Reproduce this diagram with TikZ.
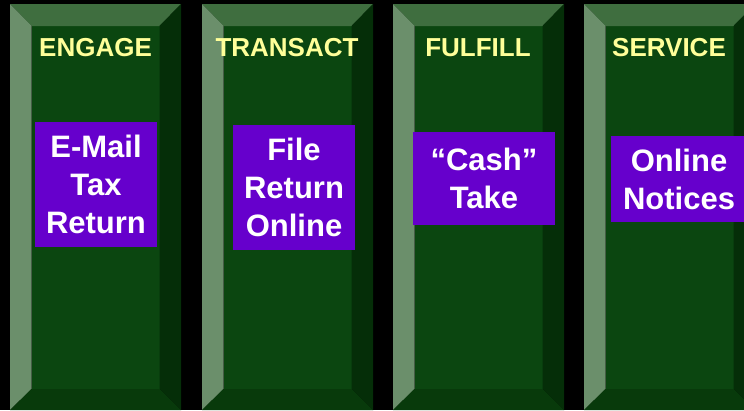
\documentclass[tikz,border=0pt]{standalone}
\usepackage{fontspec}
\setmainfont{Liberation Sans}
\definecolor{bevtop}{RGB}{63,110,63}
\definecolor{bevleft}{RGB}{107,143,107}
\definecolor{bevright}{RGB}{5,46,8}
\definecolor{bevbot}{RGB}{8,58,11}
\definecolor{face}{RGB}{11,70,16}
\definecolor{boxpurple}{RGB}{102,0,204}
\definecolor{hdryellow}{RGB}{255,255,153}
\begin{document}
\begin{tikzpicture}[x=1pt,y=-1pt,
  hdr/.style={text=hdryellow,font=\fontsize{26}{30}\selectfont\bfseries,anchor=base,inner sep=0pt},
  pbox/.style={fill=boxpurple,text=white,align=center,inner sep=0pt,
    font=\fontsize{31}{38}\selectfont\bfseries}]
\fill[black] (0,0) rectangle (744,410);
\clip (0,0) rectangle (744,410);
\foreach \L in {10,202,393,584} {
  \pgfmathsetmacro\R{\L+171}
  \pgfmathsetmacro\l{\L+21.5}
  \pgfmathsetmacro\r{\L+149.5}
  \fill[face] (\l,26) rectangle (\r,389);
  \fill[bevtop] (\L,4) -- (\R,4) -- (\r,26) -- (\l,26) -- cycle;
  \fill[bevleft] (\L,4) -- (\l,26) -- (\l,389) -- (\L,410) -- cycle;
  \fill[bevright] (\R,4) -- (\r,26) -- (\r,389) -- (\R,410) -- cycle;
  \fill[bevbot] (\L,410) -- (\l,389) -- (\r,389) -- (\R,410) -- cycle;
}
\node[hdr] (h1) at (95.5,56) {ENGAGE};
\node[hdr] (h2) at (287,56) {TRANSACT};
\node[hdr] (h3) at (478,56) {FULFILL};
\node[hdr] (h4) at (669,56) {SERVICE};
\node[pbox,minimum width=122pt,minimum height=125pt] (b1) at (96,184.5) {E-Mail\\Tax\\Return};
\node[pbox,minimum width=122pt,minimum height=125pt] (b2) at (294,187.5) {File\\Return\\Online};
\node[pbox,minimum width=142pt,minimum height=93pt] (b3) at (484,178.5) {“Cash”\\Take};
\node[pbox,minimum width=136pt,minimum height=86pt] (b4) at (679,179) {Online\\Notices};
\end{tikzpicture}
\end{document}
